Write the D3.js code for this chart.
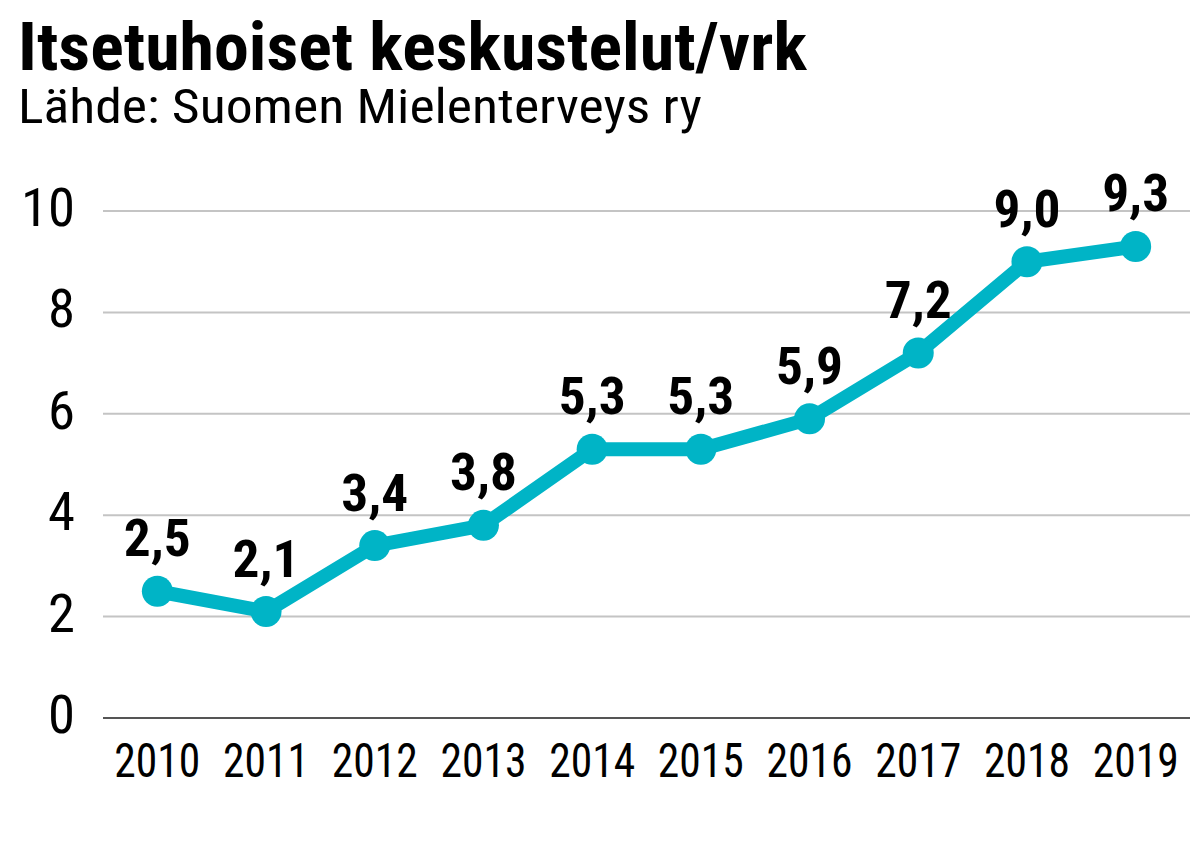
<!DOCTYPE html>
<html><head><meta charset="utf-8">
<script src="https://cdn.jsdelivr.net/npm/d3@7"></script>
<style>body{margin:0;background:#fff}svg{display:block}text{font-family:"Roboto Condensed",Roboto,sans-serif}</style>
</head><body><svg id="c" width="1199" height="853"></svg>
<script>
const years = ["2010","2011","2012","2013","2014","2015","2016","2017","2018","2019"];
const values = [2.5,2.1,3.4,3.8,5.3,5.3,5.9,7.2,9.0,9.3];
const yTicks = [0,2,4,6,8,10];
const title = "Itsetuhoiset keskustelut/vrk";
const subtitle = "Lähde: Suomen Mielenterveys ry";

const svg = d3.select("#c");
const mLeft=103,mRight=1190,mTop=211,mBottom=718;
const x = d3.scalePoint().domain(years).range([mLeft,mRight]).padding(0.5);
const y = d3.scaleLinear().domain([0,10]).range([mBottom,mTop]);
const fmt = v => d3.format(".1f")(v).replace(".",",");

function measure(str,size,weight){
  const t = svg.append("text").attr("font-size",size).attr("font-weight",weight).text(str);
  const w = t.node().getComputedTextLength(); t.remove(); return w;
}
function ctext(g, str, px, py, size, weight, anchor, s){
  const t = g.append("text").attr("font-size",size).attr("font-weight",weight).attr("fill","#000").text(str);
  const w = t.node().getComputedTextLength();
  const dx = anchor==="middle" ? -w*s/2 : anchor==="end" ? -w*s : 0;
  t.attr("transform",`translate(${px+dx},${py}) scale(${s},1)`);
  return t;
}

// gridlines
const grid = svg.append("g");
grid.selectAll("line").data(yTicks.filter(d=>d>0)).join("line")
  .attr("x1",mLeft).attr("x2",mRight).attr("y1",d=>y(d)).attr("y2",d=>y(d))
  .attr("stroke","#c4c4c4").attr("stroke-width",2);
grid.append("line").attr("x1",mLeft).attr("x2",mRight).attr("y1",y(0)).attr("y2",y(0))
  .attr("stroke","#555").attr("stroke-width",2);

// y tick labels
const ySX = 54/measure("10",53,400);
const yl = svg.append("g");
yTicks.forEach(d=>ctext(yl, String(d), 75, y(d)+15, 53, 400, "end", ySX));

// x labels
const xSX = 86/measure("2010",48,400);
const xl = svg.append("g");
years.forEach(d=>ctext(xl, d, x(d), 777, 48, 400, "middle", xSX));

// line
const line = d3.line().x((d,i)=>x(years[i])).y(d=>y(d));
svg.append("path").datum(values).attr("d",line).attr("fill","none")
  .attr("stroke","#00b4c6").attr("stroke-width",14).attr("stroke-linejoin","round");
svg.append("g").selectAll("circle").data(values).join("circle")
  .attr("cx",(d,i)=>x(years[i])).attr("cy",d=>y(d)).attr("r",15.5).attr("fill","#00b4c6");

// value labels
const vSX = 67/measure("2,5",52,700);
const vl = svg.append("g");
values.forEach((d,i)=>ctext(vl, fmt(d), x(years[i]), y(d)-35, 52, 700, "middle", vSX));

// titles
ctext(svg, title, 18, 70, 67, 700, "start", 789/measure(title,67,700));
ctext(svg, subtitle, 18, 123, 49, 400, "start", 684/measure(subtitle,49,400));
</script></body></html>
